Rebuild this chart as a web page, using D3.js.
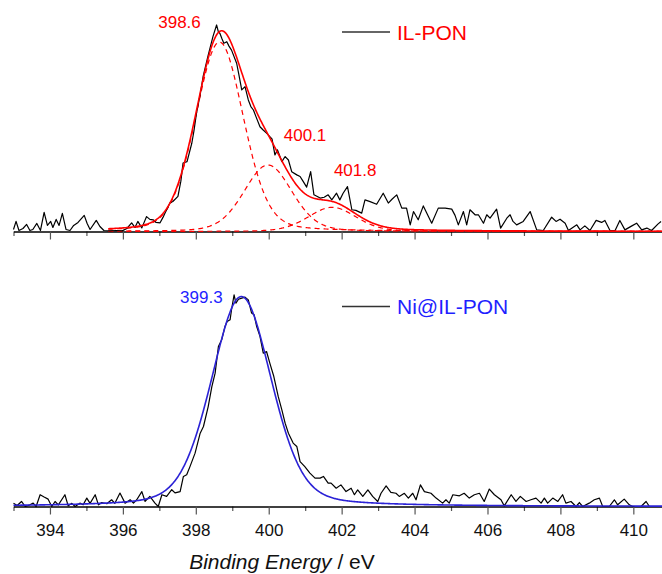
<!DOCTYPE html>
<html>
<head>
<meta charset="utf-8">
<script src="https://cdn.jsdelivr.net/npm/d3@7"></script>
<style>
  html, body { margin: 0; padding: 0; background: #fff; }
  svg { display: block; font-family: "Liberation Sans", Arial, sans-serif; }
</style>
</head>
<body>
<svg id="chart" width="662" height="574"></svg>
<script>
// ---------------- DATA ----------------
const energyDomain = [393, 410.8];
const majorTicks = [394, 396, 398, 400, 402, 404, 406, 408, 410];
const minorTicks = [393, 395, 397, 399, 401, 403, 405, 407, 409];

// IL-PON raw spectrum (binding energy, eV ; intensity, a.u.)
const ilponEnergy = [393.00,393.07,393.15,393.26,393.36,393.45,393.53,393.64,393.74,393.84,393.93,394.02,394.08,394.17,394.25,394.34,394.44,394.55,394.65,394.77,394.94,395.02,395.10,395.27,395.37,395.48,395.65,395.81,395.98,396.11,396.24,396.33,396.41,396.52,396.65,396.74,396.83,396.91,397.02,397.10,397.16,397.29,397.37,397.51,397.59,397.65,397.76,397.89,397.95,398.02,398.12,398.20,398.33,398.47,398.57,398.62,398.66,398.72,398.77,398.85,398.91,398.98,399.12,399.18,399.26,399.35,399.44,399.51,399.58,399.65,399.76,399.84,399.94,400.03,400.09,400.17,400.24,400.36,400.45,400.54,400.63,400.77,400.86,400.94,401.04,401.15,401.24,401.32,401.41,401.52,401.63,401.73,401.86,401.95,402.04,402.16,402.28,402.39,402.55,402.64,402.78,402.96,403.14,403.28,403.38,403.51,403.65,403.78,403.88,403.97,404.10,404.24,404.38,404.47,404.65,404.84,405.02,405.11,405.20,405.34,405.43,405.52,405.66,405.75,405.89,405.98,406.07,406.25,406.36,406.53,406.62,406.70,406.80,406.98,407.17,407.35,407.53,407.76,407.88,407.99,408.13,408.22,408.45,408.54,408.67,408.81,408.98,409.13,409.22,409.36,409.50,409.63,409.77,409.96,410.09,410.23,410.37,410.50,410.68,410.76];
const ilponIntensity = [1,5,0.5,1.5,3.5,0.5,1,4,0.5,9.5,3,5,2,6,3,9,1,0.5,3,4.5,8,4,1,5.5,2.5,0.5,0.3,0.5,0.3,1.5,4.3,2,5,1.8,7.4,6,5.8,4.5,4.3,7,9.3,14.2,14.9,17.4,25,34,34.7,43.8,50,58.8,68,76.8,86.8,96.7,102.5,99,98.4,95.5,93.4,94.2,92,90,83.5,78,70.3,71.9,65.3,62,60.3,57,52,50.5,48.8,47.1,46,38,40.5,34.7,37.2,35.5,29.7,28.1,27.3,25,22,29.7,18.2,17.5,16.6,17,18.2,15.7,19,15.7,19,22.3,10.8,10.5,9.1,15.7,14.8,13.5,19,14.1,16,18.2,11.6,11.6,3.3,9.9,5.8,12.7,7.4,4.1,11.6,11.6,11.1,8,3.3,9.9,3.3,10.8,8.3,8.3,4.1,8.3,6.6,11.1,1.7,6.6,8.3,5,3.3,5,9.9,0.8,0.5,7.1,5,6.1,4.1,0.5,3.3,0.8,2.8,0.5,5.5,4.5,5.5,0.5,0.5,5.5,0.8,2.8,4.1,0.8,1.7,0.5,3.8,5];

// Ni@IL-PON raw spectrum
const niEnergy = [393.00,393.10,393.22,393.32,393.45,393.54,393.62,393.73,393.84,393.95,394.05,394.14,394.23,394.41,394.50,394.60,394.69,394.82,394.91,395.01,395.10,395.24,395.33,395.42,395.56,395.69,395.78,395.92,396.06,396.20,396.29,396.38,396.52,396.61,396.74,396.88,396.97,397.07,397.20,397.34,397.43,397.57,397.66,397.75,397.84,397.98,398.12,398.21,398.34,398.44,398.53,398.62,398.71,398.80,398.86,398.94,398.98,399.05,399.10,399.17,399.26,399.35,399.44,399.53,399.60,399.67,399.76,399.85,399.94,400.03,400.14,400.26,400.36,400.45,400.54,400.67,400.77,400.86,400.99,401.13,401.27,401.41,401.50,401.63,401.71,401.85,401.98,402.12,402.26,402.35,402.44,402.58,402.72,402.85,402.99,403.08,403.22,403.35,403.49,403.58,403.72,403.83,403.95,404.04,404.16,404.27,404.45,404.59,404.77,404.86,404.95,405.05,405.23,405.36,405.50,405.64,405.78,405.91,406.05,406.19,406.37,406.46,406.65,406.78,406.90,407.06,407.19,407.33,407.47,407.56,407.65,407.79,407.93,408.06,408.15,408.29,408.43,408.52,408.61,408.79,408.93,409.07,409.16,409.34,409.48,409.57,409.75,409.89,409.98,410.21,410.35,410.44,410.76];
const niIntensity = [1.6,0.5,2.4,0,0.8,1.6,0,5.6,4.5,3.5,0,2.4,0.8,5.6,0.3,1.5,0,1.6,0.8,4,1.5,5.6,0.8,1.9,1.3,3.2,1.5,6.4,1.6,3.2,1.6,3.2,7.1,2.4,4.8,1.6,0,5.6,4.8,8,6.5,7.1,14.3,15.1,19,25.4,34.9,38.1,47.6,57.1,63.5,76.2,79.4,85.7,88.1,88.9,93.7,100.8,96.8,98.7,99.2,99.7,98.4,92.1,91.3,85.7,81,73,73.8,68.3,61.9,52.4,46,39.7,34.9,30.2,28.6,21.4,19,15.9,13.5,13.5,14.3,11.1,11.1,8.7,10.3,7.1,8.7,5.6,7.9,4.8,7.9,4.8,2.4,6.3,9.8,6.7,6.3,4.8,6.3,4,6.3,3.2,10.3,7.1,6.3,4,1.6,3.2,1.6,5.6,5.1,6.3,4,5.6,6.3,2.4,8.3,5.6,3.2,0.3,5.6,2.4,4.8,2.4,3.2,4,1.6,4,1.6,4,2.4,5.6,1.6,2.4,0,1.9,0,1.6,3.2,4,0,0,3.2,0.8,3.5,0.8,0,0,2.4,0,0];

// Fitted peak components (pseudo-Voigt): centres (eV), heights (a.u.), FWHM (eV)
const ilponPeakCenters = [398.65, 399.98, 401.74];
const ilponPeakHeights = [94, 33, 12];
const ilponPeakFwhm = [1.55, 1.55, 1.55];
const ilponLorentzFraction = 0.2;
const ilponFitStart = 395.6;
const ilponPeakLabels = ["398.6", "400.1", "401.8"];

const niPeakCenters = [399.25];
const niPeakHeights = [100];
const niPeakFwhm = [1.95];
const niLorentzFraction = 0.25;
const niFitStart = 393.0;
const niPeakLabels = ["399.3"];

const seriesNames = ["IL-PON", "Ni@IL-PON"];
const axisTitleItalic = "Binding Energy";
const axisTitleRest = " / eV";

// ---------------- LAYOUT / STYLE ----------------
const W = 662, H = 574;
const topAxisY = 231.5, botAxisY = 506.5;
const red = "#ff0000", blueLine = "#2b22d6", blueText = "#1f1fff";

const svg = d3.select("#chart");
const x = d3.scaleLinear().domain(energyDomain).range([13.5, 662.5]);
const yTop = d3.scaleLinear().domain([0, 100]).range([topAxisY, 30]);
const yBot = d3.scaleLinear().domain([0, 100]).range([botAxisY, 296.5]);

function pv(e, c, h, fwhm, eta) {
  const s = fwhm / 2.3548, g = fwhm / 2;
  const G = Math.exp(-((e - c) ** 2) / (2 * s * s));
  const L = 1 / (1 + ((e - c) / g) ** 2);
  return h * ((1 - eta) * G + eta * L);
}
function grid(a, b, step) {
  const out = [];
  for (let e = a; e <= b + 1e-9; e += step) out.push(e);
  return out;
}

function drawAxis(yPos, withLabels) {
  const gMinor = svg.append("g").attr("transform", `translate(0,${yPos})`)
    .call(d3.axisBottom(x).tickValues(minorTicks).tickSize(4.5).tickSizeOuter(0).tickFormat(""));
  gMinor.select(".domain").remove();
  gMinor.selectAll(".tick line").attr("stroke", "#555").attr("stroke-width", 1.2);
  const gMajor = svg.append("g").attr("transform", `translate(0,${yPos})`)
    .call(d3.axisBottom(x).tickValues(majorTicks).tickSize(8).tickSizeOuter(0).tickPadding(9)
      .tickFormat(withLabels ? d3.format("d") : ""));
  gMajor.select(".domain").attr("stroke", "#000").attr("stroke-width", 1.3);
  gMajor.selectAll(".tick line").attr("stroke", "#555").attr("stroke-width", 1.2);
  gMajor.selectAll(".tick text").attr("fill", "#111")
    .style("font-size", "17px").style("font-family", '"Liberation Sans", Arial, sans-serif');
}

function drawPanel(energy, intensity, centers, heights, fwhms, eta, fitStart, y, fitColor, dashed) {
  const pts = energy.map((e, i) => [e, intensity[i]]);
  const line = d3.line().x(d => x(d[0])).y(d => y(d[1]));
  const eGrid = grid(fitStart, energyDomain[1], 0.02);
  if (dashed) {
    centers.forEach((c, k) => {
      svg.append("path")
        .attr("d", line(eGrid.map(e => [e, pv(e, c, heights[k], fwhms[k], eta)])))
        .attr("fill", "none").attr("stroke", fitColor).attr("stroke-width", 1.2)
        .attr("stroke-dasharray", "5,4");
    });
  }
  svg.append("path").attr("d", line(pts))
    .attr("fill", "none").attr("stroke", "#000").attr("stroke-width", 1.2)
    .attr("stroke-linejoin", "round");
  svg.append("path")
    .attr("d", line(eGrid.map(e => [e, d3.sum(centers, (c, k) => pv(e, c, heights[k], fwhms[k], eta))])))
    .attr("fill", "none").attr("stroke", fitColor).attr("stroke-width", 1.6);
}

drawAxis(topAxisY, false);
drawAxis(botAxisY, true);

drawPanel(ilponEnergy, ilponIntensity, ilponPeakCenters, ilponPeakHeights, ilponPeakFwhm,
  ilponLorentzFraction, ilponFitStart, yTop, red, true);
drawPanel(niEnergy, niIntensity, niPeakCenters, niPeakHeights, niPeakFwhm,
  niLorentzFraction, niFitStart, yBot, blueLine, false);

// peak labels (offset from the peak centre, pixel baselines)
const ilponLabelPos = [{dx: -40, y: 28}, {dx: 37, y: 141}, {dx: 23, y: 176}];
ilponPeakLabels.forEach((t, i) => {
  svg.append("text").attr("x", x(ilponPeakCenters[i]) + ilponLabelPos[i].dx).attr("y", ilponLabelPos[i].y)
    .attr("text-anchor", "middle").attr("fill", red).style("font-size", "17px").text(t);
});
const niLabelPos = [{dx: -40, y: 302.5}];
niPeakLabels.forEach((t, i) => {
  svg.append("text").attr("x", x(niPeakCenters[i]) + niLabelPos[i].dx).attr("y", niLabelPos[i].y)
    .attr("text-anchor", "middle").attr("fill", blueText).style("font-size", "17px").text(t);
});

// legends
const legends = [
  {name: seriesNames[0], y: 32, color: red},
  {name: seriesNames[1], y: 306.5, color: blueText}
];
legends.forEach(l => {
  svg.append("line").attr("x1", 342).attr("x2", 390).attr("y1", l.y).attr("y2", l.y)
    .attr("stroke", "#333").attr("stroke-width", 1.6);
  svg.append("text").attr("x", 397).attr("y", l.y + 7.5).attr("fill", l.color)
    .style("font-size", "21px").text(l.name);
});

// axis title
const title = svg.append("text").attr("x", 282).attr("y", 569).attr("text-anchor", "middle")
  .attr("fill", "#111").style("font-size", "21px");
title.append("tspan").style("font-style", "italic").text(axisTitleItalic);
title.append("tspan").text(axisTitleRest);
</script>
</body>
</html>
